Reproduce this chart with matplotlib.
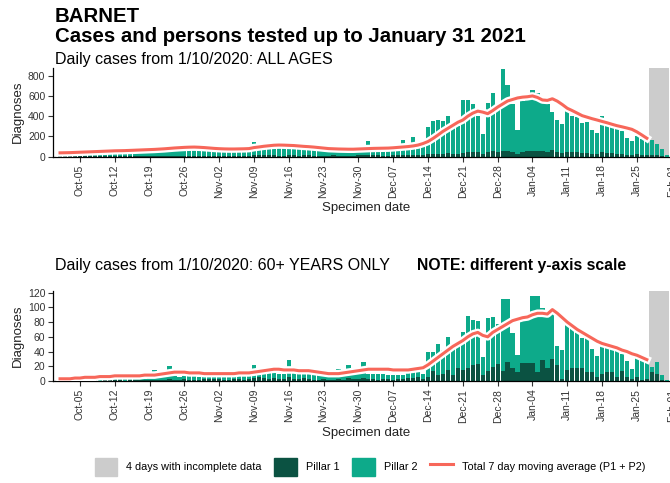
#!/usr/bin/env python3
"""Barnet daily cases, Pillar 1 / Pillar 2 stacked bars with 7 day average."""

import pandas as pd
import matplotlib
matplotlib.use("Agg")
import matplotlib.pyplot as plt
import matplotlib.dates as mdates
import matplotlib.patheffects as pe
from matplotlib.patches import Patch
from matplotlib.lines import Line2D

plt.rcParams["font.family"] = ["Liberation Sans", "DejaVu Sans"]

# --- data, one value per day 1 Oct 2020 .. 31 Jan 2021 ---
days = pd.date_range("2020-10-01", "2021-01-31", freq="D")
ma_days = days[:119]                      # moving average stops on Jan 27
incomplete = ("2021-01-28", "2021-01-31")
week_ticks = pd.date_range("2020-10-05", "2021-02-01", freq="7D")

all_p1 = [3, 4, 2, 2, 5, 5, 4, 6, 5, 3, 3, 6, 5, 7, 6, 7, 5, 4, 8, 7, 9, 8, 10, 7, 6, 10, 9, 10, 8, 9, 6,
          8, 7, 8, 9, 10, 8, 7, 9, 12, 12, 14, 12, 13, 10, 9, 14, 12, 11, 13, 12, 9, 8, 11, 10, 12, 11, 10, 8, 7, 12,
          12, 14, 13, 12, 10, 9, 15, 14, 16, 15, 18, 14, 16, 24, 28, 30, 27, 32, 25, 28, 40, 45, 48, 42, 22, 44, 55, 50, 58, 52, 48,
          30, 50, 52, 55, 60, 52, 48, 62, 45, 38, 50, 46, 44, 38, 40, 30, 26, 42, 35, 33, 30, 28, 20, 18, 22, 20, 18, 16, 12, 6, 1]
all_p2 = [22, 26, 20, 18, 30, 35, 34, 36, 40, 32, 27, 44, 50, 45, 52, 53, 45, 41, 62, 68, 69, 77, 80, 73, 64, 85, 91, 85, 80, 76, 59,
          82, 68, 62, 63, 68, 72, 63, 66, 133, 98, 91, 103, 97, 85, 76, 126, 88, 84, 79, 78, 61, 57, 74, 70, 66, 64, 62, 57, 53, 73,
          68, 136, 72, 70, 60, 59, 80, 86, 144, 95, 172, 101, 129, 271, 327, 335, 328, 366, 270, 277, 516, 511, 472, 358, 203, 486, 575, 460, 807, 660, 477,
          232, 500, 503, 605, 570, 488, 477, 378, 317, 280, 400, 359, 348, 297, 303, 235, 209, 359, 275, 267, 255, 224, 160, 132, 178, 151, 132, 144, 118, 74, 14]
all_ma = [38, 39, 40, 42, 44, 46, 48, 50, 52, 54, 56, 58, 59, 60, 62, 64, 66, 68, 70, 72, 75, 78, 82, 86, 89, 92, 94, 95, 93, 90, 86,
          82, 79, 77, 76, 76, 77, 78, 80, 90, 96, 103, 108, 113, 115, 114, 112, 110, 106, 102, 99, 95, 90, 85, 80, 78, 76, 75, 74, 74, 76,
          78, 80, 82, 83, 84, 85, 88, 92, 96, 100, 106, 115, 130, 150, 180, 214, 250, 280, 310, 340, 362, 400, 430, 450, 440, 425, 455, 490, 520, 550, 565,
          580, 588, 592, 600, 585, 560, 556, 572, 548, 515, 478, 455, 430, 405, 390, 375, 362, 348, 335, 320, 306, 295, 283, 270, 245, 214, 182]

old_p1 = [0, 1, 0, 0, 1, 1, 1, 1, 0, 1, 1, 1, 1, 0, 1, 2, 1, 1, 2, 2, 2, 1, 3, 2, 2, 3, 2, 2, 2, 3, 3,
          3, 3, 2, 2, 3, 3, 2, 3, 4, 5, 4, 3, 4, 3, 3, 6, 3, 3, 4, 3, 2, 2, 3, 2, 2, 3, 2, 4, 3, 3,
          4, 3, 3, 2, 3, 3, 2, 3, 3, 4, 4, 5, 3, 6, 13, 8, 10, 15, 8, 17, 15, 17, 22, 23, 8, 14, 19, 23, 14, 26, 17,
          12, 24, 24, 24, 12, 29, 18, 30, 22, 3, 15, 18, 18, 17, 12, 12, 6, 9, 12, 12, 6, 14, 6, 3, 6, 2, 3, 12, 9, 1, 0]
old_p2 = [2, 2, 2, 1, 2, 3, 9, 2, 2, 3, 2, 3, 4, 3, 3, 3, 3, 2, 4, 13, 4, 4, 17, 6, 4, 5, 8, 5, 4, 12, 3,
          5, 5, 7, 5, 5, 6, 5, 5, 18, 13, 8, 8, 8, 7, 6, 22, 9, 7, 15, 7, 7, 6, 5, 5, 4, 13, 5, 18, 6, 7,
          22, 7, 6, 7, 6, 5, 6, 5, 5, 13, 15, 17, 7, 34, 27, 42, 32, 45, 37, 38, 52, 71, 61, 58, 24, 71, 68, 55, 97, 86, 48,
          23, 58, 62, 91, 103, 70, 77, 63, 26, 39, 65, 55, 49, 41, 48, 31, 28, 41, 34, 31, 35, 22, 21, 13, 26, 28, 25, 7, 17, 7, 2]
old_ma = [3, 3, 3, 4, 4, 5, 5, 5, 6, 6, 6, 7, 7, 7, 7, 7, 7, 8, 8, 8, 9, 10, 11, 12, 12, 12, 11, 11, 11, 10, 10,
          10, 10, 10, 10, 10, 11, 11, 11, 12, 13, 14, 15, 16, 16, 15, 15, 15, 14, 14, 14, 13, 12, 11, 10, 10, 10, 11, 12, 13, 14,
          15, 16, 16, 16, 16, 16, 15, 15, 15, 15, 16, 17, 18, 22, 27, 32, 37, 42, 47, 51, 55, 60, 64, 66, 62, 60, 66, 70, 74, 78, 82,
          84, 86, 87, 90, 92, 92, 91, 97, 92, 86, 80, 75, 70, 66, 62, 58, 54, 51, 49, 47, 45, 42, 40, 37, 35, 32, 29]

all_yticks = [0, 200, 400, 600, 800]
old_yticks = [0, 20, 40, 60, 80, 100, 120]

GREY = "#cccccc"
P1_COL = "#0b5242"
P2_COL = "#0daa8a"
MA_COL = "#f7675a"
TXT = "#333333"


def draw_panel(ax, p1, p2, ma, ymax, yticks):
    ax.axvspan(pd.Timestamp(incomplete[0]) - pd.Timedelta(hours=12),
               pd.Timestamp(incomplete[1]) + pd.Timedelta(hours=12),
               color=GREY, lw=0, zorder=0)
    ax.bar(days, p1, width=0.85, color=P1_COL, zorder=2)
    ax.bar(days, p2, bottom=p1, width=0.85, color=P2_COL, zorder=2)
    ax.plot(ma_days, ma, color=MA_COL, lw=2.2, zorder=3,
            path_effects=[pe.Stroke(linewidth=5.5, foreground="white"), pe.Normal()])
    ax.set_xlim(days[0] - pd.Timedelta(hours=34), days[0] + pd.Timedelta(hours=12 + 24 * 124))
    ax.set_ylim(0, ymax)
    ax.set_yticks(yticks)
    ax.set_xticks(week_ticks)
    ax.xaxis.set_major_formatter(mdates.DateFormatter("%b-%d"))
    ax.tick_params(axis="x", labelrotation=90)
    ax.tick_params(labelsize=7.5, labelcolor=TXT, color=TXT, length=3.5, width=0.8, pad=2)
    for s in ("top", "right"):
        ax.spines[s].set_visible(False)
    for s in ("left", "bottom"):
        ax.spines[s].set_linewidth(0.9)
    ax.set_ylabel("Diagnoses", fontsize=9.5, color="#222222", labelpad=3)
    ax.set_xlabel("Specimen date", fontsize=9.5, color="#222222", labelpad=3)


fig = plt.figure(figsize=(6.7, 4.83), dpi=100)
ax1 = fig.add_axes([0.0791, 0.6756, 0.9346, 0.1845])
ax2 = fig.add_axes([0.0791, 0.2112, 0.9346, 0.1859])
draw_panel(ax1, all_p1, all_p2, all_ma, 880, all_yticks)
draw_panel(ax2, old_p1, old_p2, old_ma, 122, old_yticks)

fig.text(0.082, 0.966, "BARNET", fontsize=14.7, fontweight="bold", va="center")
fig.text(0.082, 0.925, "Cases and persons tested up to January 31 2021",
         fontsize=14.7, fontweight="bold", va="center")
fig.text(0.082, 0.877, "Daily cases from 1/10/2020: ALL AGES", fontsize=11.5, va="center")
fig.text(0.082, 0.451, "Daily cases from 1/10/2020: 60+ YEARS ONLY", fontsize=11.5, va="center")
fig.text(0.622, 0.451, "NOTE: different y-axis scale", fontsize=11.3,
         fontweight="bold", va="center")

handles = [Patch(color=GREY), Patch(color=P1_COL), Patch(color=P2_COL),
           Line2D([], [], color=MA_COL, lw=2.2)]
labels = ["4 days with incomplete data", "Pillar 1", "Pillar 2",
          "Total 7 day moving average (P1 + P2)"]
fig.legend(handles, labels, loc="center", bbox_to_anchor=(0.552, 0.033), ncol=4,
           frameon=False, fontsize=7.8, handlelength=2.1, handleheight=2.1,
           handletextpad=0.8, columnspacing=1.2)

fig.savefig("out.png", dpi=100)
